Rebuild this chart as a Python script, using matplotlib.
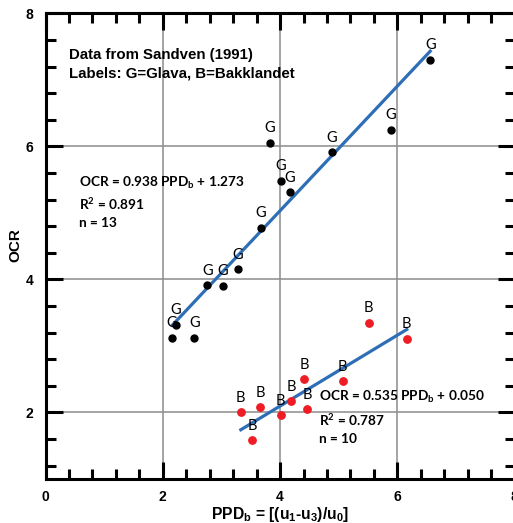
import numpy as np
import matplotlib
matplotlib.use("Agg")
import matplotlib.pyplot as plt
from matplotlib.ticker import MultipleLocator, FixedLocator

# ---- data ----
glava_x = [3.82, 4.88, 4.01, 4.17, 3.67, 3.28, 2.76, 3.02, 2.22, 2.16, 2.54, 5.89, 6.56]
glava_y = [6.05, 5.91, 5.48, 5.31, 4.78, 4.15, 3.91, 3.90, 3.32, 3.12, 3.12, 6.25, 7.30]
bakk_x = [3.33, 3.66, 3.52, 4.01, 4.19, 4.41, 4.46, 5.07, 5.51, 6.16]
bakk_y = [2.00, 2.08, 1.58, 1.96, 2.17, 2.50, 2.05, 2.47, 3.35, 3.11]
glava_label = "G"
bakk_label = "B"
x_ticks = [0, 2, 4, 6, 8]
y_ticks = [2, 4, 6, 8]
eq_glava = ["OCR = 0.938 PPD$_\\mathrm{b}$ + 1.273", "R$^\\mathrm{2}$ = 0.891", "n = 13"]
eq_bakk = ["OCR = 0.535 PPD$_\\mathrm{b}$ + 0.050", "R$^\\mathrm{2}$ = 0.787", "n = 10"]
source_text = ["Data from Sandven (1991)", "Labels: G=Glava, B=Bakklandet"]

plt.rcParams['mathtext.fontset'] = 'custom'
plt.rcParams['mathtext.rm'] = 'Lato:bold'
plt.rcParams['mathtext.it'] = 'Lato:bold'
plt.rcParams['mathtext.bf'] = 'Lato:bold'
plt.rcParams['mathtext.sf'] = 'Liberation Sans:bold'

W, H = 513, 523
fig = plt.figure(figsize=(W / 100, H / 100), dpi=100)
L, R, T, B = 45.5, 514.7, 13.3, 479.0
ax = fig.add_axes([L / W, (H - B) / H, (R - L) / W, (B - T) / H])

ax.set_xlim(0, 8)
ax.set_ylim(1, 8)
ax.xaxis.set_major_locator(FixedLocator(x_ticks))
ax.yaxis.set_major_locator(FixedLocator(y_ticks))
ax.xaxis.set_minor_locator(MultipleLocator(0.4))
ax.yaxis.set_minor_locator(MultipleLocator(0.4))
ax.tick_params(which='both', direction='in', top=True, right=True, width=2.2, color='black')
ax.tick_params(which='major', length=12.5, pad=9)
ax.tick_params(axis='x', which='major', pad=8)
ax.tick_params(which='minor', length=7)
for lab in ax.get_xticklabels() + ax.get_yticklabels():
    lab.set_fontfamily('Liberation Sans')
    lab.set_fontweight('bold')
    lab.set_fontsize(10)
for sp in ax.spines.values():
    sp.set_linewidth(2.2)
ax.grid(True, which='major', color='#8c8c8c', linewidth=1.1)
ax.set_axisbelow(True)

blue = '#2e6eb6'
red = '#ee1c24'

# regression lines from data
for xs, ys in [(glava_x, glava_y), (bakk_x, bakk_y)]:
    xs = np.array(xs); ys = np.array(ys)
    m, c = np.polyfit(xs, ys, 1)
    xl = np.array([xs.min(), xs.max()])
    ax.plot(xl, m * xl + c, color=blue, linewidth=2.3, zorder=3)

ax.plot(glava_x, glava_y, 'o', color='black', markersize=5, zorder=4)
ax.plot(bakk_x, bakk_y, 'o', color=red, markersize=5.3, zorder=4)

lblfont = dict(family='Lato', fontsize=10.5, ha='center', va='center')
for x, y in zip(glava_x, glava_y):
    ax.annotate(glava_label, (x, y), xytext=(0, 10.5), textcoords='offset points', **lblfont, zorder=5)
for x, y in zip(bakk_x, bakk_y):
    ax.annotate(bakk_label, (x, y), xytext=(0, 10.5), textcoords='offset points', **lblfont, zorder=5)

def axf(px, py):
    return ((px - L) / (R - L), (B - py) / (B - T))

for s, py in zip(source_text, [59.0, 77.3]):
    ax.text(*axf(69.3, py), s, transform=ax.transAxes, family='Liberation Sans',
            fontweight='bold', fontsize=10.8, va='baseline', ha='left')
for s, py in zip(eq_glava, [186.7, 210.0, 226.7]):
    ax.text(*axf(79.3, py), s, transform=ax.transAxes, family='Lato',
            fontweight='bold', fontsize=9.8, va='baseline', ha='left')
for s, py in zip(eq_bakk, [400.7, 425.7, 443.3]):
    ax.text(*axf(319.3, py), s, transform=ax.transAxes, family='Lato',
            fontweight='bold', fontsize=9.8, va='baseline', ha='left')

fig.text(280.5 / W, 1 - 514.5 / H, "PPD$_\\mathsf{b}$ = [(u$_\\mathsf{1}$-u$_\\mathsf{3}$)/u$_\\mathsf{0}$]",
         family='Liberation Sans', fontweight='bold', fontsize=11.3, ha='center', va='center')
fig.text(15 / W, 1 - 245 / H, "OCR", family='Liberation Sans', fontweight='bold',
         fontsize=11, ha='center', va='center', rotation=90)

fig.savefig("out.png", dpi=100)
